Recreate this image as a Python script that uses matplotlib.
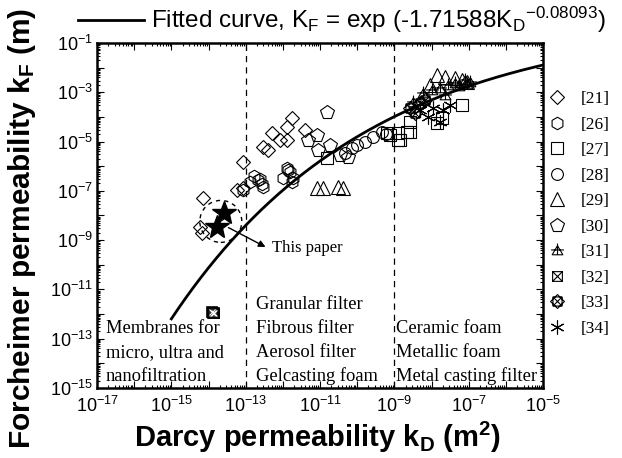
import numpy as np
import matplotlib
matplotlib.use('Agg')
import matplotlib.pyplot as plt
from matplotlib.path import Path
from matplotlib.patches import Ellipse
from matplotlib.ticker import LogLocator, FuncFormatter, NullFormatter

plt.rcParams['font.family'] = 'Liberation Sans'
plt.rcParams['mathtext.fontset'] = 'custom'
plt.rcParams['mathtext.rm'] = 'Liberation Sans'
plt.rcParams['mathtext.it'] = 'Liberation Sans:italic'
plt.rcParams['mathtext.bf'] = 'Liberation Sans:bold'

# data, as log10 values (x = k_D in m^2, y = k_F in m)
ref21_x = [-11.76, -11.89, -11.41, -12.30, -12.08, -12.54, -12.40, -11.89, -13.08, -13.08, -13.24, -14.15, -14.23, -14.18]
ref21_y = [-4.05, -4.41, -4.54, -4.66, -4.94, -5.23, -5.35, -4.94, -5.84, -6.89, -6.98, -7.30, -8.48, -8.72]
ref26_x = [-12.67, -12.78, -12.56, -12.62, -11.89, -11.81, -11.73, -12.54, -13.08, -11.76, -12.00, -12.89, -11.85]
ref26_y = [-6.57, -6.41, -6.73, -6.50, -6.08, -6.24, -6.49, -6.85, -6.98, -6.65, -6.49, -6.65, -6.15]
ref27_x = [-9.20, -8.91, -8.67, -8.91, -9.12, -8.85, -8.59, -8.59, -7.86, -7.73, -7.19, -10.82]
ref27_y = [-4.66, -4.66, -4.62, -4.94, -4.74, -4.94, -4.21, -4.62, -4.25, -4.05, -3.52, -5.67]
ref28_x = [-10.33, -10.15, -10.01, -9.80, -9.58, -9.34, -9.23]
ref28_y = [-5.47, -5.27, -5.15, -5.02, -4.82, -4.62, -4.70]
ref29_x = [-11.09, -10.92, -10.52, -10.39, -7.86, -7.65, -7.38, -7.19, -7.05, -8.05]
ref29_y = [-6.89, -6.89, -6.85, -6.89, -2.30, -2.38, -2.42, -2.50, -2.59, -2.71]
ref30_x = [-10.82, -11.09, -10.74, -11.06, -10.47, -10.25, -11.33]
ref30_y = [-3.80, -4.74, -5.15, -5.35, -5.55, -5.63, -4.94]
ref31_x = [-8.24, -8.00, -7.78, -7.56, -7.38, -7.11, -6.97, -8.51, -7.65, -7.25, -7.05]
ref31_y = [-3.03, -2.91, -2.83, -2.71, -2.63, -2.50, -2.59, -3.40, -3.11, -2.75, -2.65]
ref32_x = [-13.90, -13.86, -13.88]
ref32_y = [-11.92, -11.94, -11.95]
ref33_x = [-8.59, -8.32, -8.45, -8.18]
ref33_y = [-3.64, -3.44, -3.85, -3.32]
ref34_x = [-8.10, -7.70, -7.97, -7.78, -7.51, -8.32]
ref34_y = [-4.01, -3.72, -3.64, -4.21, -3.52, -3.72]
paper_x = [-13.59, -13.77]
paper_y = [-7.91, -8.48]

# custom marker shapes
sq_x = Path([(-1, -1), (1, -1), (1, 1), (-1, 1), (-1, -1),
             (-1, -1), (1, 1), (-1, 1), (1, -1)],
            [1, 2, 2, 2, 79, 1, 2, 1, 2])
sq_x_dia = Path([(-0.75, -0.75), (0.75, -0.75), (0.75, 0.75), (-0.75, 0.75), (-0.75, -0.75),
                 (0, -1.15), (1.15, 0), (0, 1.15), (-1.15, 0), (0, -1.15),
                 (-0.75, -0.75), (0.75, 0.75), (-0.75, 0.75), (0.75, -0.75)],
                [1, 2, 2, 2, 79, 1, 2, 2, 2, 79, 1, 2, 1, 2])
tri_plus = Path([(-1, -0.8), (1, -0.8), (0, 0.9), (-1, -0.8),
                 (0, -0.8), (0, 1.3), (-1.2, 0.1), (1.2, 0.1)],
                [1, 2, 2, 79, 1, 2, 1, 2])

series = [
    (ref21_x, ref21_y, 'D', 7.5, '[21]'),
    (ref26_x, ref26_y, 'h', 9, '[26]'),
    (ref27_x, ref27_y, 's', 8, '[27]'),
    (ref28_x, ref28_y, 'o', 8.5, '[28]'),
    (ref29_x, ref29_y, '^', 9.5, '[29]'),
    (ref30_x, ref30_y, 'p', 10, '[30]'),
    (ref31_x, ref31_y, tri_plus, 10, '[31]'),
    (ref32_x, ref32_y, sq_x, 7, '[32]'),
    (ref33_x, ref33_y, sq_x_dia, 10, '[33]'),
    (ref34_x, ref34_y, (6, 2, 0), 10, '[34]'),
]

fig = plt.figure(figsize=(6.22, 4.58), dpi=100)
ax = fig.add_axes([0.156, 0.153, 0.717, 0.753])

handles = []
for xs, ys, mk, ms, lab in series:
    h, = ax.plot(10.0 ** np.array(xs), 10.0 ** np.array(ys), linestyle='none', marker=mk,
                 markersize=ms, markerfacecolor='none', markeredgecolor='black',
                 markeredgewidth=0.8, color='black', label=lab)
    handles.append(h)
# the [32] point is drawn heavy in the reference
ax.plot(10.0 ** np.array(ref32_x), 10.0 ** np.array(ref32_y), linestyle='none', marker='s',
        markersize=7, markerfacecolor='#333333', markeredgecolor='black', markeredgewidth=1.2)
ax.plot(10.0 ** np.array(ref32_x), 10.0 ** np.array(ref32_y), linestyle='none', marker='x',
        markersize=5, markeredgecolor='white', markeredgewidth=0.7)

ax.plot(10.0 ** np.array(paper_x), 10.0 ** np.array(paper_y), linestyle='none', marker='*',
        markersize=18, color='black')

# fitted curve
kd = np.logspace(-15, -5, 300)
kf = np.exp(-1.71588 * kd ** -0.08093)
fit_line, = ax.plot(kd, kf, color='black', linewidth=2)

ax.set_xscale('log')
ax.set_yscale('log')
ax.set_xlim(1e-17, 1e-5)
ax.set_ylim(1e-15, 1e-1)

for xv in [1e-13, 1e-9]:
    ax.axvline(xv, color='black', linestyle=(0, (5, 4)), linewidth=0.9)

def fmt(v, pos):
    e = int(round(np.log10(v)))
    if e % 2 == 0:
        return ''
    return r'$\mathregular{10^{%d}}$' % e

for axis in [ax.xaxis, ax.yaxis]:
    axis.set_major_locator(LogLocator(base=10, numticks=30))
    axis.set_minor_locator(LogLocator(base=10, subs=np.arange(2, 10), numticks=30))
    axis.set_major_formatter(FuncFormatter(fmt))
    axis.set_minor_formatter(NullFormatter())
ax.tick_params(which='both', direction='in', top=True, right=True, labelsize=13, width=0.8)
ax.tick_params(which='major', length=5)
ax.tick_params(which='minor', length=2.5)
ax.tick_params(axis='x', which='major', pad=6)
ax.tick_params(axis='y', which='major', pad=3)
for s in ax.spines.values():
    s.set_linewidth(1.8)

# dashed circle around this paper's points
fig.canvas.draw()
cx, cy = ax.transAxes.inverted().transform(ax.transData.transform((10 ** -13.67, 10 ** -8.24)))
ax.add_patch(Ellipse((cx, cy), 42 / 446, 42 / 345, transform=ax.transAxes, fill=False,
                     linestyle=(0, (3, 3)), linewidth=1, edgecolor='black'))
ax.annotate('', xy=(10 ** -12.40, 10 ** -9.33), xytext=(10 ** -13.53, 10 ** -8.44),
            arrowprops=dict(arrowstyle='-|>', color='black', lw=1, mutation_scale=10))
ax.text(10 ** -12.30, 10 ** -9.33, 'This paper', family='Liberation Serif', fontsize=12, va='center')

# region texts
serif = dict(family='Liberation Serif', fontsize=13.3, va='center', ha='left', transform=ax.transAxes)
for i, t in enumerate(['Membranes for', 'micro, ultra and', 'nanofiltration']):
    ax.text(0.02, (388 - 329 - 24 * i) / 345, t, **serif)
for i, t in enumerate(['Granular filter', 'Fibrous filter', 'Aerosol filter', 'Gelcasting foam']):
    ax.text(0.357, (388 - 305 - 23.7 * i) / 345, t, **serif)
for i, t in enumerate(['Ceramic foam', 'Metallic foam', 'Metal casting filter']):
    ax.text(0.67, (388 - 329 - 23.5 * i) / 345, t, **serif)

ax.legend(handles=handles, loc='upper left', bbox_to_anchor=(1.0, 0.881), frameon=False,
          borderaxespad=0.0, handlelength=0.8, handletextpad=1.0, labelspacing=0.54,
          prop={'family': 'Liberation Serif', 'size': 12.5})

fig.legend(handles=[fit_line],
           labels=[r'Fitted curve, K$_\mathregular{F}$ = exp (-1.71588K$_\mathregular{D}$$^\mathregular{-0.08093}$)'],
           loc='center', bbox_to_anchor=(0.55, 0.956), frameon=False, fontsize=17.5,
           handlelength=2.7, handletextpad=0.3)

fig.text(0.51, 0.045, r'Darcy permeability k$_\mathbf{D}$ (m$^\mathbf{2}$)', fontsize=21,
         fontweight='bold', ha='center', va='center')
fig.text(0.035, 0.502, r'Forcheimer permeability k$_\mathbf{F}$ (m)', fontsize=21.5,
         fontweight='bold', ha='center', va='center', rotation=90)

fig.savefig('out.png', dpi=100)
plt.close(fig)
